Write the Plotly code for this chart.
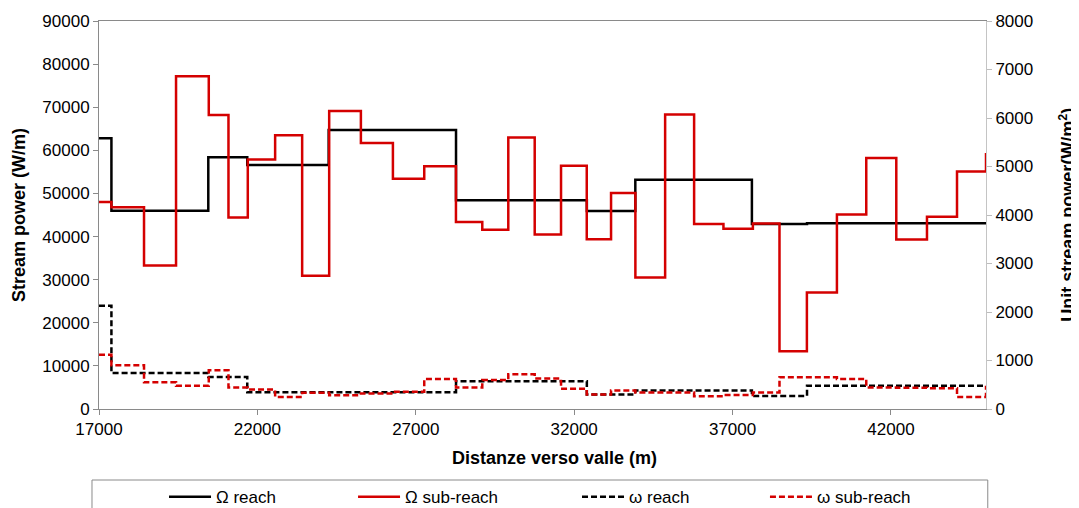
import plotly.graph_objects as go

# Reach breakpoints (m) and values
x_reach = [17000, 17392, 20450, 21680, 24250, 28270, 32400, 33930, 37610, 39350, 45000]
Omega_reach = [62800, 46000, 58400, 56600, 64700, 48400, 45900, 53200, 42900, 43100, 43100]
omega_reach = [2130, 740, 660, 345, 345, 570, 300, 380, 270, 480, 480]

# Sub-reach breakpoints (m) and values
x_sub = [17000, 17392, 18421, 19432, 20465, 21087, 21697, 22560, 23413, 24266, 25267,
         26278, 27267, 28268, 29099, 29920, 30754, 31585, 32397, 33164, 33932, 34871,
         35786, 36712, 37641, 38481, 39346, 40294, 41220, 42168, 43137, 44085, 45000]
Omega_sub = [48000, 46800, 33300, 77200, 68200, 44400, 57900, 63500, 30900, 69100, 61700,
             53400, 56300, 43400, 41600, 63000, 40500, 56400, 39400, 50100, 30500, 68300,
             42900, 41800, 43000, 13400, 27000, 45100, 58200, 39300, 44600, 55100, 59400]
omega_sub = [1120, 900, 550, 480, 800, 445, 400, 250, 335, 285, 320,
             355, 620, 445, 600, 715, 630, 420, 300, 380, 340, 340,
             265, 290, 340, 655, 655, 620, 445, 440, 430, 250, 480]

x_ticks = [17000, 22000, 27000, 32000, 37000, 42000]
left_ticks = list(range(0, 90001, 10000))
right_ticks = list(range(0, 8001, 1000))

BLACK = "#000000"
RED = "#d40000"
AXIS = "#8a8a8a"
FONT = "Liberation Sans, Arial, sans-serif"

fig = go.Figure()
fig.add_trace(go.Scatter(x=x_reach, y=Omega_reach, mode="lines", name="Ω reach",
                         line=dict(color=BLACK, width=2.5, shape="hv"), legend="legend"))
fig.add_trace(go.Scatter(x=x_sub, y=Omega_sub, mode="lines", name="Ω sub-reach",
                         line=dict(color=RED, width=2.5, shape="hv"), legend="legend2"))
fig.add_trace(go.Scatter(x=x_reach, y=omega_reach, mode="lines", name="ω reach", yaxis="y2",
                         line=dict(color=BLACK, width=2.5, shape="hv", dash="6px,3px"), legend="legend3"))
fig.add_trace(go.Scatter(x=x_sub, y=omega_sub, mode="lines", name="ω sub-reach", yaxis="y2",
                         line=dict(color=RED, width=2.5, shape="hv", dash="6px,3px"), legend="legend4"))

leg_common = dict(y=-0.227, xanchor="left", yanchor="middle", orientation="h",
                  bgcolor="rgba(0,0,0,0)", borderwidth=0, visible=True, itemwidth=42,
                  font=dict(family=FONT, size=17, color="#000"))

# The page body adds an 8px offset, so the figure is 8px smaller each way.
fig.update_layout(
    width=1071, height=500,
    showlegend=True,
    margin=dict(l=91, r=93, t=13, b=99, autoexpand=False),
    plot_bgcolor="white", paper_bgcolor="white",
    font=dict(family=FONT, size=17, color="#000"),
    xaxis=dict(range=[17000, 45000], tickvals=x_ticks, tickformat="d",
               ticks="outside", ticklen=5, tickcolor=AXIS, automargin=False,
               showline=True, linecolor=AXIS, linewidth=1, mirror=True,
               showgrid=False, zeroline=False, tickfont=dict(size=17)),
    yaxis=dict(range=[0, 90000], tickvals=left_ticks, tickformat="d",
               ticks="outside", ticklen=5, tickcolor=AXIS, automargin=False,
               showline=True, linecolor=AXIS, linewidth=1,
               showgrid=False, zeroline=False, tickfont=dict(size=17)),
    yaxis2=dict(range=[0, 8000], tickvals=right_ticks, tickformat="d",
                overlaying="y", side="right", automargin=False,
                ticks="outside", ticklen=5, tickcolor="#bdbdbd",
                showline=True, linecolor="#c4c4c4", linewidth=1,
                showgrid=False, zeroline=False, tickfont=dict(size=17)),
    legend=dict(x=0.0733, **leg_common),
    legend2=dict(x=0.2864, **leg_common),
    legend3=dict(x=0.5389, **leg_common),
    legend4=dict(x=0.7508, **leg_common),
    shapes=[dict(type="rect", xref="paper", yref="paper",
                 x0=-0.0079, x1=1.002, y0=-0.183, y1=-0.40,
                 line=dict(color=AXIS, width=1), fillcolor="rgba(0,0,0,0)", layer="below")],
    annotations=[
        dict(text="<b>Stream power (W/m)</b>", xref="paper", yref="paper",
             x=-0.0902, y=0.5, textangle=-90, showarrow=False,
             xanchor="center", yanchor="middle", font=dict(size=18)),
        dict(text="<b>Unit stream power(W/m<sup>2</sup>)</b>", xref="paper", yref="paper",
             x=1.091, y=0.5, textangle=-90, showarrow=False,
             xanchor="center", yanchor="middle", font=dict(size=18)),
        dict(text="<b>Distanze verso valle (m)</b>", xref="paper", yref="paper",
             x=0.514, y=-0.126, showarrow=False,
             xanchor="center", yanchor="middle", font=dict(size=18)),
    ],
)

fig.write_html("out.html")
